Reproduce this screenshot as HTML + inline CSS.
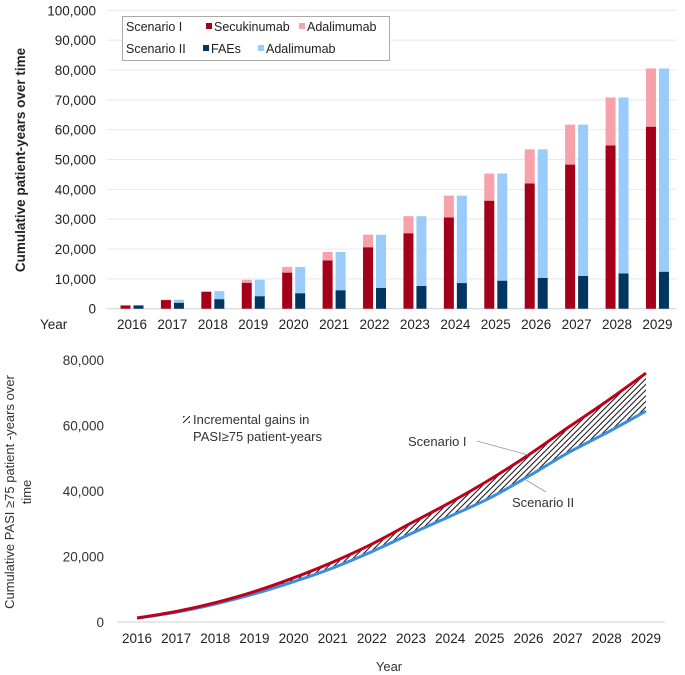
<!DOCTYPE html>
<html><head><meta charset="utf-8">
<style>
body{margin:0;background:#fff;}
svg{display:block;font-family:"Liberation Sans",sans-serif;}
</style></head>
<body>
<svg id="chart" width="685" height="675" viewBox="0 0 685 675">
<defs>
<pattern id="hatch" patternUnits="userSpaceOnUse" width="4" height="4" patternTransform="rotate(45)">
<rect width="4" height="4" fill="#fff"/>
<line x1="0" y1="0" x2="0" y2="4" stroke="#111" stroke-width="2"/>
</pattern>
</defs>
<g id="topChart"></g>
<g id="bottomChart"></g>
</svg>
<script>
const years = ["2016","2017","2018","2019","2020","2021","2022","2023","2024","2025","2026","2027","2028","2029"];
const s1Secukinumab = [1100,2900,5600,8700,12100,16200,20600,25300,30600,36200,42000,48300,54700,61000];
const s1Total = [1100,3000,5900,9700,14000,19000,24800,31000,37900,45300,53400,61700,70800,80500];
const s2FAEs = [1100,2000,3200,4200,5200,6200,7000,7600,8600,9400,10300,11000,11800,12400];
const s2Total = [1100,3000,5900,9700,14000,19000,24800,31000,37900,45300,53400,61700,70800,80500];
const topTicks = [0,10000,20000,30000,40000,50000,60000,70000,80000,90000,100000];
const scenarioI = [1200,3200,5900,9300,13500,18300,23800,30200,36500,43400,51000,59300,67400,76000];
const scenarioII = [1200,3000,5500,8600,12300,16500,21500,27000,32300,37800,44500,51600,57800,64400];
const bottomTicks = [0,20000,40000,60000,80000];

const NS="http://www.w3.org/2000/svg";
function mk(tag,attrs,parent,text){const e=document.createElementNS(NS,tag);for(const k in attrs)e.setAttribute(k,attrs[k]);if(text!==undefined)e.textContent=text;parent.appendChild(e);return e;}
const fmt=v=>String(v).replace(/\B(?=(\d{3})+(?!\d))/g,',');

// ---------- TOP ----------
const topG=document.getElementById('topChart');
const ty=v=>308.7-(v/100000)*298.4;
const tx=i=>132+i*40.42;
topTicks.forEach(t=>{
  const l=mk('line',{x1:107,x2:676,y1:ty(t),y2:ty(t),stroke:t===0?'#d0d0d0':'#e8e8e8','stroke-width':1},topG);
  
  
  const tl=mk('text',{x:96,y:ty(t)+5,'text-anchor':'end','font-size':13.5,fill:'#222'},topG,fmt(t));
  
  
});
years.forEach((y,i)=>{
  const c=tx(i);
  const bars=[
    [c-11.5,0,s1Secukinumab[i],'#a50019','bar-scenario1-secukinumab'],
    [c-11.5,s1Secukinumab[i],s1Total[i],'#f7a1ab','bar-scenario1-adalimumab'],
    [c+1.5,0,s2FAEs[i],'#003660','bar-scenario2-faes'],
    [c+1.5,s2FAEs[i],s2Total[i],'#99ccfa','bar-scenario2-adalimumab']];
  bars.forEach(b=>{
    if(b[2]<=b[1])return;
    const r=mk('rect',{x:b[0],y:ty(b[2]),width:10,height:ty(b[1])-ty(b[2]),fill:b[3]},topG);
    
    
  });
  const lab=mk('text',{x:c,y:329,'text-anchor':'middle','font-size':13.5,fill:'#222'},topG,y);
  
  
});
const yr=mk('text',{x:40,y:329,'font-size':13.5,fill:'#222'},topG,'Year');


const tyt=mk('text',{x:0,y:0,transform:'translate(25,160) rotate(-90)','text-anchor':'middle','font-size':13.5,'font-weight':'bold',fill:'#222'},topG,'Cumulative patient-years over time');


const lg=mk('g',{},topG);


mk('rect',{x:122.5,y:16.5,width:267,height:44,fill:'#fff',stroke:'#aaa'},lg);
const legItems=[
  [126,31,null,'Scenario I','legend-scenario1-label'],
  [214,31,'#a50019','Secukinumab','legend-entry-secukinumab'],
  [307,31,'#f7a1ab','Adalimumab','legend-entry-s1-adalimumab'],
  [126,53,null,'Scenario II','legend-scenario2-label'],
  [211,53,'#003660','FAEs','legend-entry-faes'],
  [266,53,'#99ccfa','Adalimumab','legend-entry-s2-adalimumab']];
legItems.forEach(it=>{
  const g=mk('g',{},lg);
  
  
  if(it[2])mk('rect',{x:it[0]-8,y:it[1]-8,width:6,height:6,fill:it[2]},g);
  mk('text',{x:it[0],y:it[1],'font-size':12.5,fill:'#222'},g,it[3]);
});

// ---------- BOTTOM ----------
const botG=document.getElementById('bottomChart');
const by=v=>622-(v/80000)*262;
const bx=i=>137+i*39.15;
const ax=mk('line',{x1:117,x2:665,y1:622,y2:622,stroke:'#d0d0d0'},botG);


bottomTicks.forEach(t=>{
  const tl=mk('text',{x:104,y:by(t)+5,'text-anchor':'end','font-size':13.5,fill:'#333'},botG,fmt(t));
  
  
});
years.forEach((y,i)=>{
  const lab=mk('text',{x:bx(i),y:643,'text-anchor':'middle','font-size':13.5,fill:'#222'},botG,y);
  
  
});
function pathFor(arr){
  const p=arr.map((v,i)=>[bx(i),by(v)]);
  let d='M'+p[0][0]+','+p[0][1];
  for(let i=0;i<p.length-1;i++){
    const p0=p[Math.max(i-1,0)],p1=p[i],p2=p[i+1],p3=p[Math.min(i+2,p.length-1)];
    d+=' C'+(p1[0]+(p2[0]-p0[0])/6)+','+(p1[1]+(p2[1]-p0[1])/6)+' '+(p2[0]-(p3[0]-p1[0])/6)+','+(p2[1]-(p3[1]-p1[1])/6)+' '+p2[0]+','+p2[1];
  }
  return d;
}
const upper=pathFor(scenarioI);
const lowerPts=scenarioII.map((v,i)=>[bx(i),by(v)]).reverse();
const area=upper+lowerPts.map(q=>' L'+q[0]+','+q[1]).join('')+' Z';
const ar=mk('path',{d:area,fill:'url(#hatch)',stroke:'none'},botG);


const l2=mk('path',{d:pathFor(scenarioII),fill:'none',stroke:'#3a8de0','stroke-width':3},botG);


const l1=mk('path',{d:upper,fill:'none',stroke:'#c0001a','stroke-width':3},botG);


const a1=mk('text',{x:408,y:446,'font-size':13,fill:'#333'},botG,'Scenario I');


mk('line',{x1:477,y1:441,x2:528,y2:455,stroke:'#999','stroke-width':0.8},botG);
const a2=mk('text',{x:512,y:507,'font-size':13,fill:'#333'},botG,'Scenario II');


mk('line',{x1:546,y1:492,x2:526,y2:480,stroke:'#999','stroke-width':0.8},botG);
const lgb=mk('g',{},botG);


mk('rect',{x:183,y:416,width:7,height:7,fill:'url(#hatch)'},lgb);
mk('text',{x:193,y:424,'font-size':13,fill:'#333'},lgb,'Incremental gains in');
mk('text',{x:193,y:441,'font-size':13,fill:'#333'},lgb,'PASI≥75 patient-years');
const byt=mk('text',{x:0,y:0,transform:'translate(14,492) rotate(-90)','text-anchor':'middle','font-size':13,fill:'#333'},botG,'Cumulative PASI ≥75 patient -years over');


const byt2=mk('text',{x:0,y:0,transform:'translate(31,492) rotate(-90)','text-anchor':'middle','font-size':13,fill:'#333'},botG,'time');


const bxt=mk('text',{x:389,y:671,'text-anchor':'middle','font-size':13,fill:'#333'},botG,'Year');


</script>
</body></html>
